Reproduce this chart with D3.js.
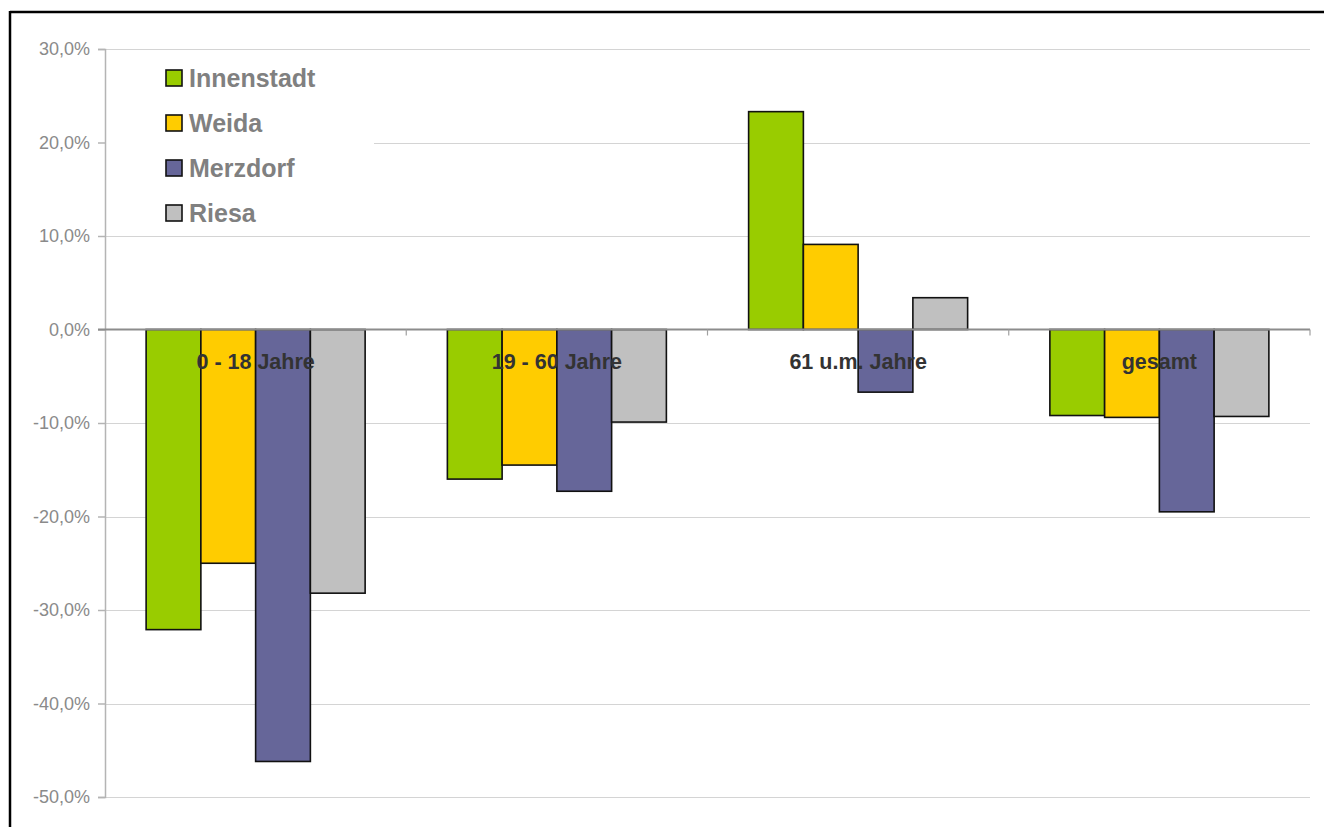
<!DOCTYPE html>
<html>
<head>
<meta charset="utf-8">
<script src="https://cdn.jsdelivr.net/npm/d3@7"></script>
<style>
  html, body { margin: 0; padding: 0; background: #fff; }
  svg { display: block; }
</style>
</head>
<body>
<svg id="chart" width="1324" height="827"></svg>
<script>
const categories = ["0 - 18 Jahre", "19 - 60 Jahre", "61 u.m. Jahre", "gesamt"];
const seriesNames = ["Innenstadt", "Weida", "Merzdorf", "Riesa"];
const innenstadt = [-32.1, -16.0, 23.3, -9.2];
const weida      = [-25.0, -14.5, 9.1, -9.4];
const merzdorf   = [-46.2, -17.3, -6.7, -19.5];
const riesa      = [-28.2, -9.9, 3.4, -9.3];
const colors = ["#99cc00", "#ffcc00", "#666699", "#c0c0c0"];
const yTicks = [30, 20, 10, 0, -10, -20, -30, -40, -50];

const seriesValues = [innenstadt, weida, merzdorf, riesa];
const data = categories.map((c, i) => ({
  category: c,
  values: seriesNames.map((s, j) => ({ series: s, value: seriesValues[j][i], color: colors[j] }))
}));

const svg = d3.select("#chart");
const plotL = 105, plotR = 1310, plotT = 49, plotB = 797;

const y = d3.scaleLinear().domain([-50, 30]).range([plotB, plotT]);
const x0 = d3.scaleBand().domain(categories).range([plotL, plotR]).padding(0);
const x1 = d3.scaleBand().domain(seriesNames).range([0, x0.bandwidth()])
  .paddingInner(0).paddingOuter(0.751);

// outer frame (top + left)
svg.append("line").attr("x1", 10).attr("x2", 1324).attr("y1", 12).attr("y2", 12)
  .attr("stroke", "#000").attr("stroke-width", 2.5);
svg.append("line").attr("x1", 10).attr("x2", 10).attr("y1", 11).attr("y2", 827)
  .attr("stroke", "#000").attr("stroke-width", 2.5);

// gridlines
svg.append("g").selectAll("line").data(yTicks.filter(d => d !== 0)).join("line")
  .attr("x1", plotL).attr("x2", plotR)
  .attr("y1", d => Math.round(y(d)) + 0.5).attr("y2", d => Math.round(y(d)) + 0.5)
  .attr("stroke", "#d4d4d4").attr("stroke-width", 1.2);

// legend background (hides gridline)
svg.append("rect").attr("x", plotL + 1).attr("y", 56).attr("width", 374 - plotL - 1).attr("height", 174)
  .attr("fill", "#fff");

// y axis
const yAxis = d3.axisLeft(y).tickValues(yTicks).tickSize(7).tickPadding(8)
  .tickFormat(d => d.toFixed(1).replace(".", ",") + "%");
const yg = svg.append("g").attr("transform", `translate(${plotL},0)`).call(yAxis);
yg.select(".domain").attr("stroke", "#b4b4b4").attr("stroke-width", 1.5);
yg.selectAll(".tick line").attr("stroke", "#b4b4b4").attr("stroke-width", 1.5);
yg.selectAll(".tick text").attr("fill", "#8a8a8a")
  .style("font-family", "'Liberation Sans', Arial, sans-serif").style("font-size", "18px");

// bars
const groups = svg.append("g").selectAll("g").data(data).join("g")
  .attr("transform", d => `translate(${x0(d.category)},0)`);
groups.selectAll("rect").data(d => d.values).join("rect")
  .attr("x", d => x1(d.series))
  .attr("width", x1.bandwidth())
  .attr("y", d => y(Math.max(0, d.value)))
  .attr("height", d => Math.abs(y(d.value) - y(0)))
  .attr("fill", d => d.color)
  .attr("stroke", "#111").attr("stroke-width", 1.6);

// x axis (zero line) with ticks at band edges
const xAxisG = svg.append("g").attr("transform", `translate(0,${y(0)})`);
xAxisG.append("line").attr("x1", plotL - 7).attr("x2", plotR).attr("y1", 0).attr("y2", 0)
  .attr("stroke", "#8c8c8c").attr("stroke-width", 1.8);
const edges = categories.map(c => x0(c)).concat([plotR]);
xAxisG.selectAll("line.edge").data(edges.slice(1)).join("line").attr("class", "edge")
  .attr("x1", d => d).attr("x2", d => d).attr("y1", 0).attr("y2", 6)
  .attr("stroke", "#a0a0a0").attr("stroke-width", 1.2);

// category labels
svg.append("g").selectAll("text").data(categories).join("text")
  .attr("x", d => x0(d) + x0.bandwidth() / 2)
  .attr("y", 369)
  .attr("text-anchor", "middle")
  .attr("fill", "#333")
  .style("font-family", "'Liberation Sans', Arial, sans-serif")
  .style("font-weight", "bold").style("font-size", "21.5px")
  .text(d => d);

// legend
const legend = svg.append("g").selectAll("g").data(seriesNames).join("g")
  .attr("transform", (d, i) => `translate(166,${70 + i * 45})`);
legend.append("rect").attr("width", 16).attr("height", 16)
  .attr("fill", (d, i) => colors[i]).attr("stroke", "#111").attr("stroke-width", 1.6);
legend.append("text").attr("x", 23).attr("y", 17)
  .attr("fill", "#808080")
  .style("font-family", "'Liberation Sans', Arial, sans-serif")
  .style("font-weight", "bold").style("font-size", "25px")
  .text(d => d);
</script>
</body>
</html>
